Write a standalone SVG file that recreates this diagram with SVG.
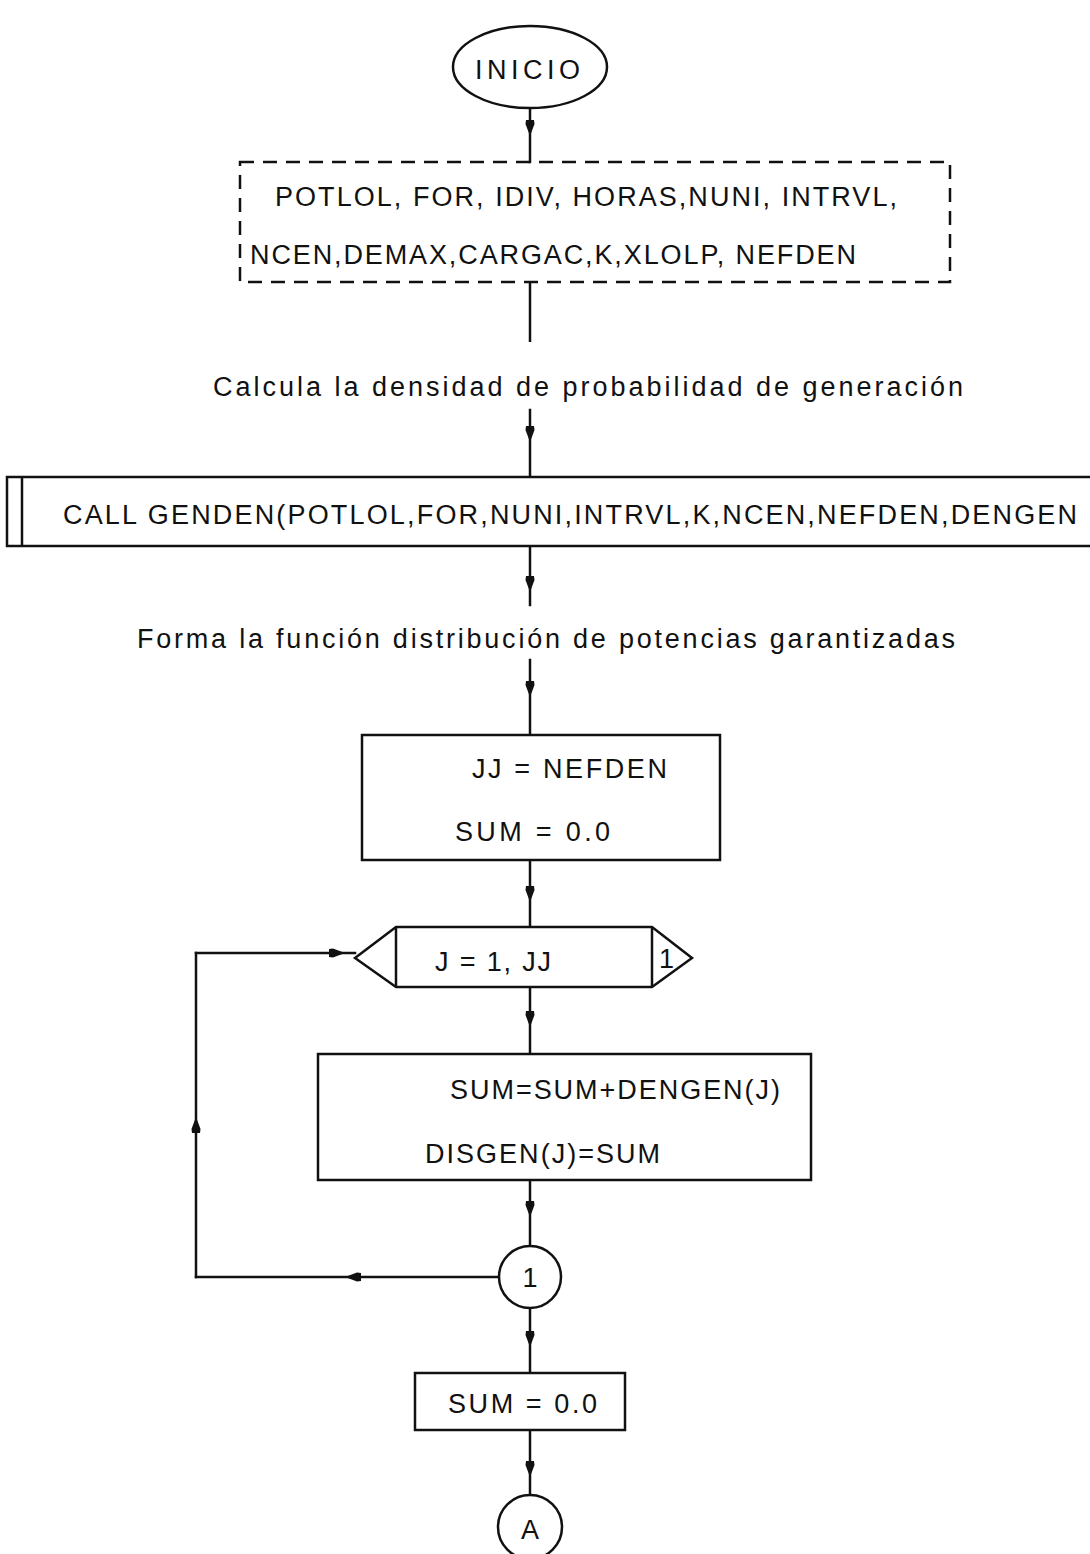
<svg xmlns="http://www.w3.org/2000/svg" width="1090" height="1554" viewBox="0 0 1090 1554">
  <style>
    .shape { fill: #fff; stroke: #111; stroke-width: 2.5; }
    .dash { fill: none; stroke: #111; stroke-width: 2.5; stroke-dasharray: 14 9; }
    .wire { fill: none; stroke: #111; stroke-width: 2.5; stroke-linecap: square; marker-mid: url(#tip); }
    .plain { fill: none; stroke: #111; stroke-width: 2.5; }
    text { font-family: "Liberation Sans", "DejaVu Sans", Arial, sans-serif; font-size: 27px; fill: #111; }
  </style>
  <defs>
    <marker id="tip" markerUnits="userSpaceOnUse" markerWidth="18" markerHeight="12" refX="16" refY="5" orient="auto">
      <path d="M0,1 L4,0.5 L16,5 L4,9.5 L0,9 z" fill="#111"/>
    </marker>
  </defs>

  <!-- connectors -->
  <g id="connectors">
    <path class="wire" d="M530,108 L530,136 L530,162"/>
    <path class="plain" d="M530,282 L530,342"/>
    <path class="wire" d="M530,410 L530,442 L530,477"/>
    <path class="wire" d="M530,546 L530,592 L530,605"/>
    <path class="wire" d="M530,660 L530,697 L530,735"/>
    <path class="wire" d="M530,860 L530,902 L530,927"/>
    <path class="wire" d="M530,987 L530,1027 L530,1054"/>
    <path class="wire" d="M530,1180 L530,1217 L530,1247"/>
    <path class="wire" d="M530,1307 L530,1347 L530,1373"/>
    <path class="wire" d="M530,1430 L530,1477 L530,1495"/>
    <!-- loop return from connector 1 back to the DO block -->
    <path class="wire" d="M500,1277 L345,1277 L196,1277"/>
    <path class="wire" d="M196,1277 L196,1117 L196,953"/>
    <path class="wire" d="M196,953 L345,953 L355,953"/>
  </g>

  <!-- start terminal -->
  <g id="inicio">
    <ellipse class="shape" cx="530" cy="67" rx="77" ry="41"/>
    <text x="475" y="79" textLength="105" lengthAdjust="spacing">INICIO</text>
  </g>

  <!-- input data block -->
  <g id="datos">
    <rect class="dash" x="240" y="162" width="710" height="120"/>
    <text x="275" y="206" textLength="622" lengthAdjust="spacing">POTLOL, FOR, IDIV, HORAS,NUNI, INTRVL,</text>
    <text x="250" y="264" textLength="606" lengthAdjust="spacing">NCEN,DEMAX,CARGAC,K,XLOLP, NEFDEN</text>
  </g>

  <g id="nota1">
    <text x="213" y="396" textLength="750" lengthAdjust="spacing">Calcula la densidad de probabilidad de generación</text>
  </g>

  <!-- subroutine call -->
  <g id="genden">
    <rect class="shape" x="7" y="477" width="1095" height="69"/>
    <line class="plain" x1="22" y1="477" x2="22" y2="546"/>
    <text x="63" y="524" textLength="1014" lengthAdjust="spacing">CALL GENDEN(POTLOL,FOR,NUNI,INTRVL,K,NCEN,NEFDEN,DENGEN</text>
  </g>

  <g id="nota2">
    <text x="137" y="648" textLength="818" lengthAdjust="spacing">Forma la función distribución de potencias garantizadas</text>
  </g>

  <g id="init">
    <rect class="shape" x="362" y="735" width="358" height="125"/>
    <text x="472" y="778" textLength="195" lengthAdjust="spacing">JJ = NEFDEN</text>
    <text x="455" y="841" textLength="155" lengthAdjust="spacing">SUM = 0.0</text>
  </g>

  <!-- DO loop block -->
  <g id="bucle">
    <polygon class="shape" points="355,958 396,927 652,927 692,958 652,987 396,987"/>
    <line class="plain" x1="396" y1="927" x2="396" y2="987"/>
    <line class="plain" x1="652" y1="927" x2="652" y2="987"/>
    <text x="435" y="971" textLength="116" lengthAdjust="spacing">J = 1, JJ</text>
    <text x="659" y="968">1</text>
  </g>

  <g id="acumula">
    <rect class="shape" x="318" y="1054" width="493" height="126"/>
    <text x="450" y="1099" textLength="330" lengthAdjust="spacing">SUM=SUM+DENGEN(J)</text>
    <text x="425" y="1163" textLength="235" lengthAdjust="spacing">DISGEN(J)=SUM</text>
  </g>

  <g id="conector1">
    <circle class="shape" cx="530" cy="1277" r="31"/>
    <text x="530" y="1287" text-anchor="middle">1</text>
  </g>

  <g id="reinicio">
    <rect class="shape" x="415" y="1373" width="210" height="57"/>
    <text x="448" y="1413" textLength="149" lengthAdjust="spacing">SUM = 0.0</text>
  </g>

  <g id="conectorA">
    <circle class="shape" cx="530" cy="1527" r="32"/>
    <text x="530" y="1539" text-anchor="middle" font-size="30">A</text>
  </g>
</svg>
